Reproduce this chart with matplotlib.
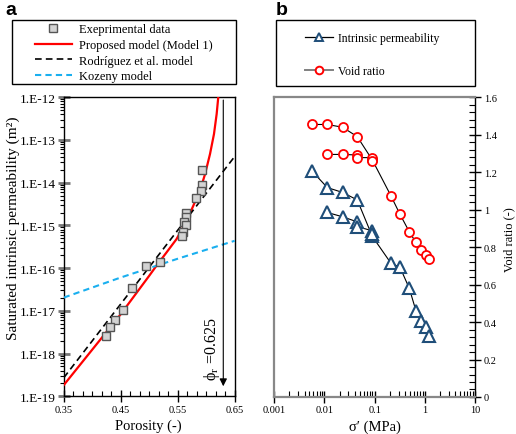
import numpy as np
import matplotlib
matplotlib.use("Agg")
import matplotlib.pyplot as plt
from matplotlib.lines import Line2D
from matplotlib.patches import Rectangle
from matplotlib.ticker import LogLocator, FixedLocator, NullFormatter, FuncFormatter, AutoMinorLocator, MultipleLocator

plt.rcParams['font.family'] = ['Liberation Serif', 'DejaVu Serif']
plt.rcParams['mathtext.fontset'] = 'stix'

# ---- panel a data ----
phi_exp = [0.593, 0.593, 0.591, 0.582, 0.564, 0.564, 0.5615, 0.564, 0.560, 0.558,
           0.5185, 0.494, 0.4696, 0.4539, 0.4404, 0.4317, 0.4246]
k_exp = [2.0e-14, 8.8e-15, 6.5e-15, 4.3e-15, 2.0e-15, 1.6e-15, 1.2e-15, 1.0e-15, 7.1e-16, 5.7e-16,
         1.4e-16, 1.14e-16, 3.5e-17, 1.06e-17, 6.1e-18, 4.2e-18, 2.6e-18]

phi_model1 = [0.35, 0.40, 0.45, 0.50, 0.513, 0.53, 0.548, 0.5658, 0.5774, 0.589,
              0.598, 0.6067, 0.6137, 0.6184, 0.6212]
logk_model1 = [-18.74, -17.91, -17.08, -16.18, -15.94, -15.64, -15.32, -14.89, -14.54, -14.19,
               -13.80, -13.33, -12.86, -12.39, -12.0]

phi_rodriguez = [0.35, 0.65]
k_rodriguez = [2.7e-19, 4.1e-14]

phi_kozeny = [0.35, 0.45, 0.55, 0.65]
logk_kozeny = [-16.69, -16.22, -15.78, -15.36]

phi_r = 0.63

# ---- panel b data ----
sig_e1 = [0.0056, 0.0114, 0.023, 0.045, 0.09, 0.21, 0.32, 0.49, 0.665, 0.85, 1.04, 1.22]
e1 = [1.455, 1.455, 1.44, 1.39, 1.265, 1.075, 0.975, 0.882, 0.825, 0.784, 0.757, 0.736]
sig_e2 = [0.0114, 0.023, 0.045, 0.045, 0.09, 0.09]
e2 = [1.295, 1.295, 1.292, 1.278, 1.278, 1.262]

# intrinsic permeability, drawn on the same vertical scale as the reference
sig_k1 = [0.0056, 0.0114, 0.023, 0.045, 0.09, 0.21, 0.32, 0.49, 0.665, 0.85, 1.04, 1.22]
k1 = [1.207, 1.118, 1.092, 1.052, 0.857, 0.715, 0.692, 0.58, 0.46, 0.407, 0.372, 0.324]
sig_k2 = [0.0114, 0.023, 0.045, 0.045, 0.09, 0.09]
k2 = [0.985, 0.962, 0.935, 0.910, 0.887, 0.869]

fig = plt.figure(figsize=(5.16, 4.35), dpi=100)

# ================= panel a =================
ax = fig.add_axes([0.1234, 0.0867, 0.3314, 0.6874])
ax.set_yscale('log')
ax.plot(phi_model1, 10.0 ** np.array(logk_model1), color='red', lw=1.6, zorder=3)
ax.plot(phi_rodriguez, k_rodriguez, color='black', lw=1.2, dashes=(4, 2.5), zorder=3)
ax.plot(phi_kozeny, 10.0 ** np.array(logk_kozeny), color='#1AAFEF', lw=1.5, dashes=(3, 2), zorder=3)
ax.plot(phi_exp, k_exp, ls='none', marker='s', ms=5.5, mfc='#d3d3d3', mec='#555555', mew=1, zorder=4)

ax.annotate('', xy=(phi_r, 10 ** -18.83), xytext=(phi_r, 1e-12),
            arrowprops=dict(arrowstyle='-|>', color='black', lw=0.8, mutation_scale=11))
ax.text(0.6096, 10 ** -17.87, 'ϕ$_\\mathregular{r}$ =0.625', rotation=90, ha='center', va='center',
        fontsize=11.5)

ax.set_xlim(0.35, 0.65)
ax.set_ylim(1e-19, 1e-12)
ax.xaxis.set_major_locator(FixedLocator([0.35, 0.45, 0.55, 0.65]))
ax.xaxis.set_minor_locator(AutoMinorLocator(6))
ax.xaxis.set_major_formatter(FuncFormatter(lambda v, p: f'{v:.2f}'))
ax.yaxis.set_major_locator(LogLocator(base=10, numticks=20))
ax.yaxis.set_minor_locator(LogLocator(base=10, subs=np.arange(2, 10), numticks=20))
ax.yaxis.set_minor_formatter(NullFormatter())
ax.yaxis.set_major_formatter(FuncFormatter(lambda v, p: f'1.E{int(round(np.log10(v)))}'))
ax.tick_params(axis='y', which='major', direction='inout', length=9, width=2, color='#777777', labelsize=9.5, pad=1)
ax.tick_params(axis='y', which='minor', direction='out', length=3, width=0.8)
ax.tick_params(axis='x', which='major', direction='inout', length=8, width=1, labelsize=7.5, pad=2)
ax.tick_params(axis='x', which='minor', direction='in', length=3.5, width=0.8)
for s in ax.spines.values():
    s.set_linewidth(1.0)

ax.set_xlabel('Porosity (-)', fontsize=10.5)
ax.set_ylabel('Saturated intrinsic permeability (m²)', fontsize=11)
ax.xaxis.set_label_coords(0.493, -0.074)
ax.yaxis.set_label_coords(-0.255, 0.566)

fig.text(0.010, 0.995, 'a', fontsize=14, fontweight='bold', family='Liberation Sans', va='top')

# legend a
fig.add_artist(Rectangle((12 / 516, 1 - 85 / 435), 224 / 516, 64 / 435, transform=fig.transFigure,
                         fill=False, ec='black', lw=1.0))
handles_a = [
    Line2D([], [], ls='none', marker='s', ms=5.5, mfc='#d3d3d3', mec='#555555', mew=1),
    Line2D([], [], color='red', lw=1.6),
    Line2D([], [], color='black', lw=1.2, dashes=(4, 2.5)),
    Line2D([], [], color='#1AAFEF', lw=1.5, dashes=(3, 2)),
]
labels_a = ['Exeprimental data', 'Proposed model (Model 1)', 'Rodríguez et al. model', 'Kozeny model']
fig.legend(handles_a, labels_a, loc='upper left', bbox_to_anchor=(32 / 516, 1 - 22 / 435),
           frameon=False, fontsize=9, handlelength=3.0, handletextpad=0.55, labelspacing=0.28,
           borderpad=0.2, borderaxespad=0)

# ================= panel b =================
bx = fig.add_axes([0.5316, 0.0851, 0.389, 0.6889])
bx.set_xscale('log')
bx.plot(sig_k1, k1, color='black', lw=0.8, marker='^', ms=8, mfc='white', mec='#1F4E79', mew=1.5)
bx.plot(sig_k2, k2, color='black', lw=0.8, marker='^', ms=8, mfc='white', mec='#1F4E79', mew=1.5)
bx.plot(sig_e1, e1, color='black', lw=0.8, marker='o', ms=6.5, mfc='white', mec='red', mew=1.3)
bx.plot(sig_e2, e2, color='black', lw=0.8, marker='o', ms=6.5, mfc='white', mec='red', mew=1.3)

bx.set_xlim(0.001, 10)
bx.set_ylim(0, 1.6)
bx.yaxis.tick_right()
bx.yaxis.set_label_position('right')
bx.yaxis.set_major_locator(MultipleLocator(0.2))
bx.yaxis.set_minor_locator(MultipleLocator(0.04))
bx.yaxis.set_major_formatter(FuncFormatter(lambda v, p: f'{v:g}'))
bx.xaxis.set_major_locator(LogLocator(base=10, numticks=10))
bx.xaxis.set_minor_locator(LogLocator(base=10, subs=np.arange(2, 10), numticks=10))
bx.xaxis.set_minor_formatter(NullFormatter())
bx.xaxis.set_major_formatter(FuncFormatter(lambda v, p: f'{v:g}'))
bx.tick_params(axis='y', which='major', direction='inout', length=9, width=1, labelsize=7.5, pad=2)
bx.tick_params(axis='y', which='minor', direction='in', length=4, width=0.8)
bx.tick_params(axis='x', which='major', direction='inout', length=8, width=1, labelsize=7.5, pad=2)
bx.tick_params(axis='x', which='minor', direction='in', length=4, width=0.8)
for side in ['top', 'left', 'bottom']:
    bx.spines[side].set_color('#888888')
    bx.spines[side].set_linewidth(1.6)
bx.spines['right'].set_linewidth(1.0)

bx.set_xlabel('σ′ (MPa)', fontsize=10.5)
bx.set_ylabel('Void ratio (-)', fontsize=9)
bx.xaxis.set_label_coords(0.50, -0.074)
bx.yaxis.set_label_coords(1.14, 0.527)

fig.text(0.535, 0.995, 'b', fontsize=14, fontweight='bold', family='Liberation Sans', va='top')

# legend b
fig.add_artist(Rectangle((276 / 516, 1 - 87 / 435), 199 / 516, 66 / 435, transform=fig.transFigure,
                         fill=False, ec='black', lw=1.0))
handles_b = [
    Line2D([], [], color='black', lw=0.9, marker='^', ms=6, mfc='white', mec='#1F4E79', mew=1.4),
    Line2D([], [], color='#808080', lw=1.4, marker='o', ms=5.5, mfc='white', mec='red', mew=1.4),
]
labels_b = ['Intrinsic permeability', 'Void ratio']
fig.legend(handles_b, labels_b, loc='upper left', bbox_to_anchor=(303 / 516, 1 - 31 / 435),
           frameon=False, fontsize=8.5, handlelength=2.3, handletextpad=0.5, labelspacing=1.75,
           borderpad=0.2, borderaxespad=0)

fig.savefig('out.png', dpi=100)
